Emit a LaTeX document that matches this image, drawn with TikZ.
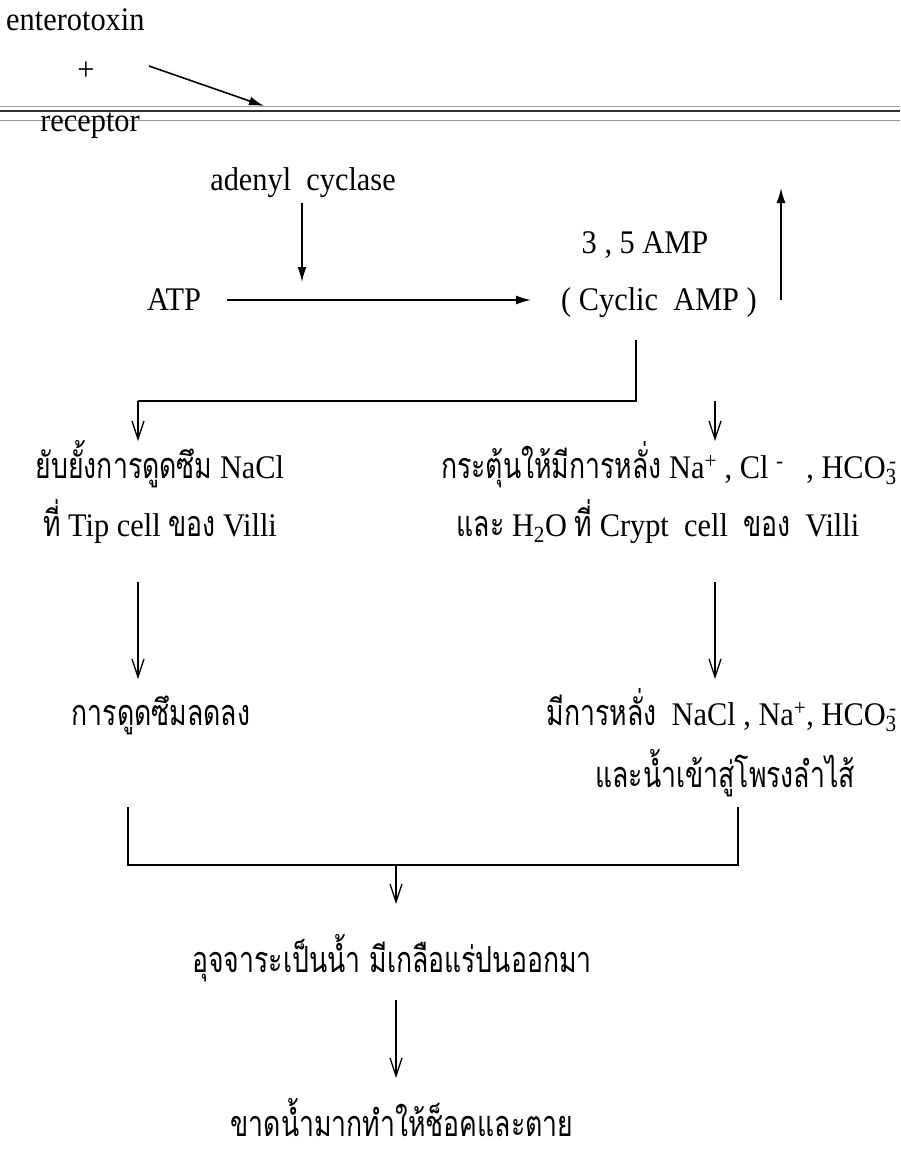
\documentclass[tikz,border=0pt]{standalone}
\usepackage{fontspec}
\setmainfont{Liberation Serif}[FakeStretch=0.92]
\newfontfamily\thaiF[Script=Thai,FakeStretch=0.74,Scale=1.09]{Loma}
\usetikzlibrary{arrows.meta}
\tikzset{
  txt/.style={inner sep=0pt, anchor=base, font=\fontsize{33}{38}\selectfont},
  fa/.style={-{Latex[length=15pt,width=9pt]}, line width=1.6pt},
  va/.style={-{Straight Barb[length=18pt,width=12pt,line width=1.3pt]}, line width=1.5pt},
  ln/.style={line width=1.6pt},
}
\newcommand{\hco}{HCO\textsubscript{3}\llap{\textsuperscript{-}}}
\begin{document}
\begin{tikzpicture}[x=1pt,y=-1pt]
\useasboundingbox (0,0) rectangle (900,1151);
% membrane
\draw[gray!70, line width=0.8pt] (0,106) -- (900,106);
\draw[black!80, line width=1.6pt] (0,111) -- (900,111);
\draw[gray!80, line width=1pt] (0,120) -- (900,120);
% top part
\node[txt, anchor=base west] (ent) at (6,30) {enterotoxin};
\node[txt] (plus) at (86,80) {+};
\node[txt] (rec) at (90,131) {receptor};
\coordinate (e1) at (149,66);
\coordinate (e2) at (264,106);
\draw[fa] (e1) -- (e2);
\node[txt] (ac) at (303,190) {adenyl\ \ cyclase};
\coordinate (acs) at (302,203);
\coordinate (ace) at (302,282);
\draw[fa] (acs) -- (ace);
\node[txt] (atp) at (174,310) {ATP};
\node[txt] (amp35) at (645,253) {3 , 5 AMP};
\node[txt] (camp) at (659,310) {( Cyclic\ \ AMP )};
\coordinate (as) at (227,300);
\coordinate (ae) at (531,300);
\draw[fa] (as) -- (ae);
\coordinate (us) at (781,300);
\coordinate (ue) at (781,188);
\draw[fa] (us) -- (ue);
% split
\coordinate (v1) at (636,340);
\coordinate (v2) at (636,401);
\coordinate (hl) at (138,401);
\coordinate (hr) at (715,401);
\coordinate (tl) at (138,441);
\coordinate (tr) at (715,441);
\draw[ln] (v1) -- (v2) -- (hl);
\draw[va] (hl) -- (tl);
\draw[va] (hr) -- (tr);
% second row
\node[txt] (l1) at (160,478) {{\thaiF ยับยั้งการดูดซึม} NaCl};
\node[txt] (l2) at (160,536) {{\thaiF ที่} Tip cell {\thaiF ของ} Villi};
\node[txt, anchor=base east] (r1) at (897,478) {{\thaiF กระตุ้นให้มีการหลั่ง} Na\textsuperscript{+} , Cl \textsuperscript{-}\ \ \ , \hco};
\node[txt] (r2) at (658,536) {{\thaiF และ} H\textsubscript{2}O {\thaiF ที่} Crypt\ \ cell\ \ {\thaiF ของ}\ \ Villi};
% long arrows
\coordinate (ls) at (138,582);
\coordinate (le) at (138,679);
\coordinate (rs) at (715,582);
\coordinate (re) at (715,679);
\draw[va] (ls) -- (le);
\draw[va] (rs) -- (re);
% third row
\node[txt] (m1) at (161,725) {\thaiF การดูดซึมลดลง};
\node[txt, anchor=base east] (m2) at (897,725) {{\thaiF มีการหลั่ง}\ \ NaCl , Na\textsuperscript{+}, \hco};
\node[txt] (m3) at (725,787) {\thaiF และน้ำเข้าสู่โพรงลำไส้};
% merge bracket
\coordinate (bl1) at (128,807);
\coordinate (bl2) at (128,865);
\coordinate (br1) at (738,807);
\coordinate (br2) at (738,865);
\draw[ln] (bl1) -- (bl2) -- (br2) -- (br1);
\coordinate (ms) at (396,865);
\coordinate (me) at (396,904);
\draw[va] (ms) -- (me);
\node[txt] (st) at (392,972) {\thaiF อุจจาระเป็นน้ำ มีเกลือแร่ปนออกมา};
\coordinate (fs) at (396,1000);
\coordinate (fe) at (396,1078);
\draw[va] (fs) -- (fe);
\node[txt, text depth=0pt] (dead) at (402,1136) {\thaiF ขาดน้ำมากทำให้ช็อคและตาย};
\end{tikzpicture}
\end{document}
